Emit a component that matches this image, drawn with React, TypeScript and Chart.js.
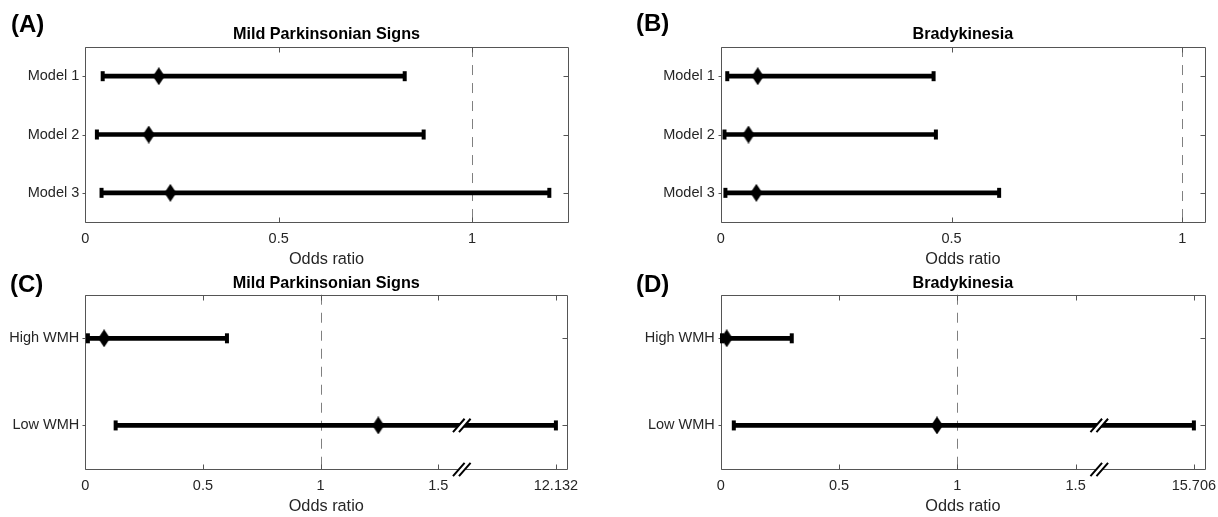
import React, { useEffect, useRef } from 'react';
import { Chart, registerables } from 'chart.js';

Chart.register(...registerables);

const FONT = '"Liberation Sans", Arial, Helvetica, sans-serif';

// ---------- data ----------
const modelCategories = ['Model 1', 'Model 2', 'Model 3'];
const wmhCategories = ['High WMH', 'Low WMH'];

// (A) Mild Parkinsonian Signs by model
const aOddsRatio = [0.19, 0.164, 0.22];
const aLowerCI = [0.045, 0.03, 0.042];
const aUpperCI = [0.826, 0.875, 1.2];

// (B) Bradykinesia by model
const bOddsRatio = [0.08, 0.06, 0.077];
const bLowerCI = [0.014, 0.008, 0.01];
const bUpperCI = [0.461, 0.466, 0.603];

// (C) Mild Parkinsonian Signs by WMH group
const cOddsRatio = [0.08, 1.245];
const cLowerCI = [0.011, 0.129];
const cUpperCI = [0.602, 12.132];

// (D) Bradykinesia by WMH group
const dOddsRatio = [0.025, 0.914];
const dLowerCI = [0.005, 0.055];
const dUpperCI = [0.3, 15.706];

// tick values / labels
const modelTicks = [0, 0.5, 1];
const cTicks = [0, 0.5, 1, 1.5, 12.132];
const dTicks = [0, 0.5, 1, 1.5, 15.706];

const referenceOR = 1;
const breakStart = 1.6; // axis is broken above this odds ratio

// ---------- panel setup ----------
type Panel = {
  tag: string;
  title: string;
  categories: string[];
  or: number[];
  lo: number[];
  hi: number[];
  ticks: number[];
  axisMax: number;
  breakTop?: number;
  left: number;
  top: number;
  width: number;
  height: number;
  yAxisWidth: number;
  padRight: number;
  titlePadTop: number;
  titlePadBottom: number;
  tagLeft: number;
  tagTop: number;
};

const panels: Panel[] = [
  {
    tag: '(A)', title: 'Mild Parkinsonian Signs', categories: modelCategories,
    or: aOddsRatio, lo: aLowerCI, hi: aUpperCI, ticks: modelTicks, axisMax: 1.2475,
    left: 0, top: 0, width: 600, height: 270, yAxisWidth: 85.3, padRight: 32.3,
    titlePadTop: 25.2, titlePadBottom: 2.4, tagLeft: 11, tagTop: 12,
  },
  {
    tag: '(B)', title: 'Bradykinesia', categories: modelCategories,
    or: bOddsRatio, lo: bLowerCI, hi: bUpperCI, ticks: modelTicks, axisMax: 1.049,
    left: 600, top: 0, width: 618, height: 270, yAxisWidth: 120.8, padRight: 13,
    titlePadTop: 25.2, titlePadBottom: 2.4, tagLeft: 636, tagTop: 11,
  },
  {
    tag: '(C)', title: 'Mild Parkinsonian Signs', categories: wmhCategories,
    or: cOddsRatio, lo: cLowerCI, hi: cUpperCI, ticks: cTicks, axisMax: 2.048, breakTop: 12.132,
    left: 0, top: 255, width: 600, height: 262, yAxisWidth: 85.3, padRight: 32.8,
    titlePadTop: 18.5, titlePadBottom: 1.8, tagLeft: 10, tagTop: 272,
  },
  {
    tag: '(D)', title: 'Bradykinesia', categories: wmhCategories,
    or: dOddsRatio, lo: dLowerCI, hi: dUpperCI, ticks: dTicks, axisMax: 2.047, breakTop: 15.706,
    left: 600, top: 255, width: 618, height: 262, yAxisWidth: 120.8, padRight: 13,
    titlePadTop: 18.5, titlePadBottom: 1.8, tagLeft: 636, tagTop: 272,
  },
];

// maps an odds ratio to its position on the (possibly broken) axis
function toAxis(v: number, breakTop?: number): number {
  if (breakTop === undefined || v <= breakStart) return v;
  return breakStart + ((v - breakStart) * (2 - breakStart)) / (breakTop - breakStart);
}

function fmt(v: number): string {
  return String(v);
}

function makeDiamond(): HTMLCanvasElement {
  const c = document.createElement('canvas');
  c.width = 12;
  c.height = 18;
  const g = c.getContext('2d')!;
  g.fillStyle = '#000';
  g.beginPath();
  g.moveTo(6, 0);
  g.lineTo(12, 9);
  g.lineTo(6, 18);
  g.lineTo(0, 9);
  g.closePath();
  g.fill();
  return c;
}

function drawBreak(ctx: CanvasRenderingContext2D, cx: number, cy: number) {
  const dx = 5.8;
  const dy = 6.7;
  const gap = 3;
  ctx.save();
  ctx.fillStyle = '#fff';
  ctx.beginPath();
  ctx.moveTo(cx - gap - dx, cy + dy);
  ctx.lineTo(cx - gap + dx, cy - dy);
  ctx.lineTo(cx + gap + dx, cy - dy);
  ctx.lineTo(cx + gap - dx, cy + dy);
  ctx.closePath();
  ctx.fill();
  ctx.strokeStyle = '#000';
  ctx.lineWidth = 2;
  ctx.beginPath();
  ctx.moveTo(cx - gap - dx, cy + dy);
  ctx.lineTo(cx - gap + dx, cy - dy);
  ctx.moveTo(cx + gap - dx, cy + dy);
  ctx.lineTo(cx + gap + dx, cy - dy);
  ctx.stroke();
  ctx.restore();
}

const snap = (v: number) => Math.round(v) + 0.5;

const framePlugin = {
  id: 'frame',
  beforeDatasetsDraw(chart: any, _args: any, opts: any) {
    const { ctx, chartArea: a, scales } = chart;
    const x = scales.x;
    const y = scales.y;
    ctx.save();
    // reference line at OR = 1
    const rx = snap(x.getPixelForValue(toAxis(referenceOR, opts.breakTop)));
    ctx.strokeStyle = '#808080';
    ctx.lineWidth = 1;
    ctx.setLineDash([10, 8]);
    ctx.beginPath();
    ctx.moveTo(rx, a.top);
    ctx.lineTo(rx, a.bottom);
    ctx.stroke();
    ctx.setLineDash([]);
    // frame
    const L = snap(a.left);
    const R = snap(a.right);
    const T = snap(a.top);
    const B = snap(a.bottom);
    ctx.strokeStyle = '#555';
    ctx.beginPath();
    ctx.rect(L, T, R - L, B - T);
    ctx.stroke();
    // x ticks (inward, top and bottom)
    ctx.beginPath();
    x.ticks.forEach((t: any) => {
      const px = snap(x.getPixelForValue(t.value));
      ctx.moveTo(px, B);
      ctx.lineTo(px, B - 5);
      ctx.moveTo(px, T);
      ctx.lineTo(px, T + 5);
    });
    // y ticks (left outward, right inward)
    y.ticks.forEach((_t: any, i: number) => {
      const py = snap(y.getPixelForValue(i));
      ctx.moveTo(L - 3, py);
      ctx.lineTo(L, py);
      ctx.moveTo(R - 5, py);
      ctx.lineTo(R, py);
    });
    ctx.stroke();
    ctx.restore();
  },
  afterDatasetsDraw(chart: any, _args: any, opts: any) {
    if (opts.breakTop === undefined) return;
    const { ctx, chartArea: a, scales } = chart;
    const bx = scales.x.getPixelForValue(breakStart);
    (opts.lo as number[]).forEach((lo: number, i: number) => {
      const hi = (opts.hi as number[])[i];
      if (lo < breakStart && hi > breakStart) {
        drawBreak(ctx, bx, scales.y.getPixelForValue(i));
      }
    });
    drawBreak(ctx, bx, snap(a.bottom));
  },
};

function ForestPanel({ p }: { p: Panel }) {
  const ref = useRef<HTMLCanvasElement | null>(null);
  useEffect(() => {
    if (!ref.current) return;
    const diamond = makeDiamond();
    const bt = p.breakTop;
    const tickPositions = p.ticks.map((t) => toAxis(t, bt));
    const tickLabels = p.ticks.map(fmt);
    const chart = new Chart(ref.current, {
      type: 'bar',
      data: {
        labels: p.categories,
        datasets: [
          {
            type: 'bar',
            indexAxis: 'y',
            data: p.categories.map((_c, i) => [toAxis(p.lo[i], bt), toAxis(p.hi[i], bt)]),
            backgroundColor: '#000',
            borderWidth: 0,
            barThickness: 4,
            clip: false,
          } as any,
          {
            type: 'scatter',
            data: [
              ...p.categories.map((c, i) => ({ x: toAxis(p.lo[i], bt), y: c })),
              ...p.categories.map((c, i) => ({ x: toAxis(p.hi[i], bt), y: c })),
            ],
            pointStyle: 'line',
            rotation: 90,
            radius: 5,
            borderWidth: 4,
            borderColor: '#000',
            backgroundColor: '#000',
            clip: false,
          } as any,
          {
            type: 'scatter',
            data: p.categories.map((c, i) => ({ x: toAxis(p.or[i], bt), y: c })),
            pointStyle: diamond,
            radius: 9,
            borderWidth: 0,
            clip: false,
          } as any,
        ],
      },
      options: {
        animation: false,
        responsive: false,
        maintainAspectRatio: false,
        events: [],
        layout: { padding: { left: 0, right: p.padRight, top: 0, bottom: 0 } },
        plugins: {
          legend: { display: false },
          tooltip: { enabled: false },
          title: {
            display: true,
            text: p.title,
            fullSize: false,
            color: '#000',
            font: { family: FONT, size: 16.2, weight: 'bold' },
            padding: { top: p.titlePadTop, bottom: p.titlePadBottom },
          },
          frame: { breakTop: bt, lo: p.lo, hi: p.hi },
        } as any,
        scales: {
          x: {
            type: 'linear',
            min: 0,
            max: p.axisMax,
            offset: false,
            grid: { display: false, drawTicks: false, offset: false },
            border: { display: false },
            afterBuildTicks: (s: any) => {
              s.ticks = tickPositions.map((v) => ({ value: v }));
            },
            afterFit: (s: any) => {
              s.height = 48;
              s.paddingLeft = 0;
              s.paddingRight = 0;
            },
            ticks: {
              autoSkip: false,
              maxRotation: 0,
              padding: 8,
              color: '#262626',
              font: { family: FONT, size: 14.5 },
              callback: (_v: any, i: number) => tickLabels[i],
            },
            title: {
              display: true,
              text: 'Odds ratio',
              color: '#262626',
              font: { family: FONT, size: 16.3 },
              padding: { top: 0, bottom: 0.4 },
            },
          },
          y: {
            type: 'category',
            offset: true,
            grid: { display: false, drawTicks: false },
            border: { display: false },
            afterFit: (s: any) => {
              s.width = p.yAxisWidth;
              s.paddingTop = 0;
              s.paddingBottom = 0;
            },
            ticks: {
              padding: 6,
              color: '#262626',
              font: { family: FONT, size: 14.5 },
            },
          },
        },
      } as any,
      plugins: [framePlugin as any],
    });
    return () => chart.destroy();
  }, [p]);

  return (
    <>
      <canvas
        ref={ref}
        width={p.width}
        height={p.height}
        style={{ position: 'absolute', left: p.left, top: p.top, width: p.width, height: p.height }}
      />
      <div
        style={{
          position: 'absolute',
          left: p.tagLeft,
          top: p.tagTop,
          fontFamily: FONT,
          fontWeight: 'bold',
          fontSize: 24,
          lineHeight: 1,
          color: '#000',
          whiteSpace: 'nowrap',
        }}
      >
        {p.tag}
      </div>
    </>
  );
}

export default function App() {
  return (
    <div
      style={{
        position: 'fixed',
        left: 0,
        top: 0,
        width: 1218,
        height: 517,
        background: '#fff',
        overflow: 'hidden',
      }}
    >
      {panels.map((p) => (
        <ForestPanel key={p.tag} p={p} />
      ))}
    </div>
  );
}
